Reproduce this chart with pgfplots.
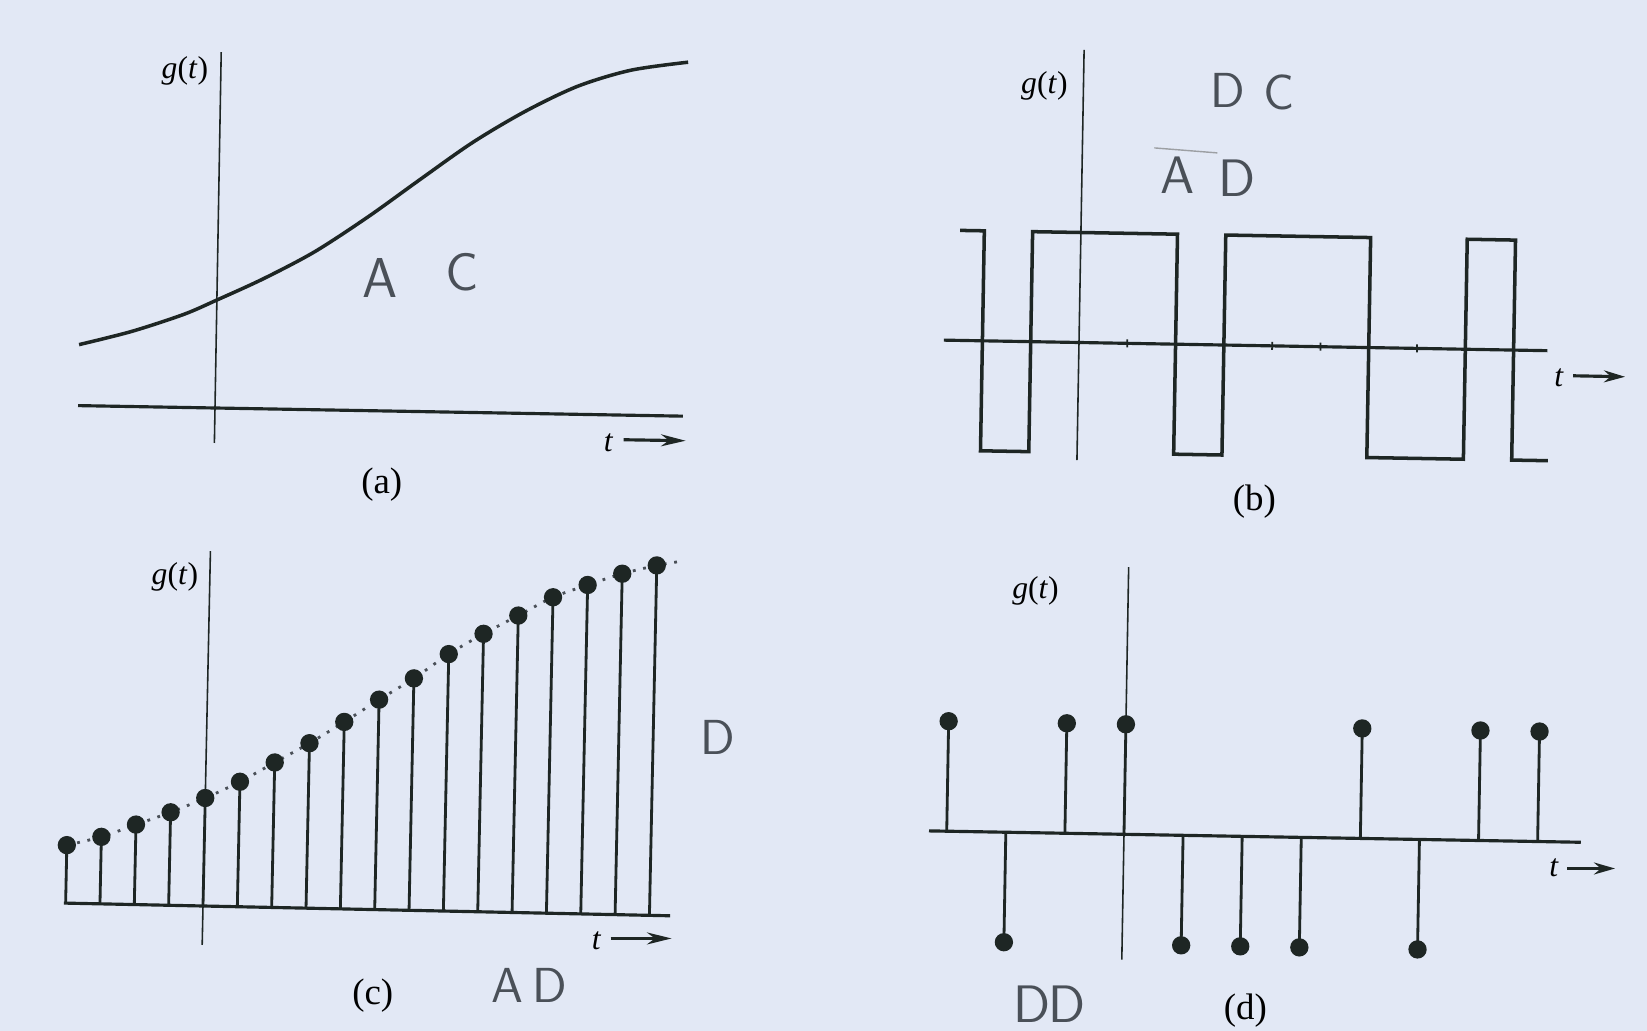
\documentclass[border=0pt]{standalone}
\usepackage{pgfplots}
\pgfplotsset{compat=1.18}
\usepackage{fontspec}
\setmainfont{Liberation Serif}
\usetikzlibrary{arrows.meta}

\definecolor{paper}{HTML}{E2E8F5}
\definecolor{ink}{HTML}{1E2624}
\definecolor{pencil}{HTML}{4A5058}

\pgfplotsset{
  signal panel/.style={
    anchor=origin, clip=false,
    axis lines=middle,
    axis line style={-, draw=ink},
    x axis line style={line width=0.9pt},
    y axis line style={line width=0.45pt},
    xtick=\empty, ytick=\empty,
    enlargelimits=false,
  },
  stem/.style={ycomb, draw=ink, line width=0.8pt,
    mark=*, mark size=2.2pt, mark options={fill=ink, draw=ink}},
}

\newcommand{\gt}{\textit{g}(\textit{t})}
\newcommand{\hand}[1]{\fontsize{#1}{#1}\selectfont\sffamily\color{pencil}}
\newcommand{\lab}{\fontsize{10.5}{12}\selectfont}
\newcommand{\sml}{\fontsize{9}{10}\selectfont}

\begin{document}
\begin{tikzpicture}
\fill[paper] (0,0) rectangle (16.47cm,-10.31cm);
\path[use as bounding box] (0,0) rectangle (16.47cm,-10.31cm);

% (a) continuous time, continuous amplitude
\begin{axis}[signal panel, at={(2.15cm,-4.08cm)},
  rotate around={-1.0:(current axis.origin)},
  x=1cm, y=1cm, xmin=-1.37, xmax=4.68, ymin=-0.35, ymax=3.56]
\addplot[ink, line width=1.0pt, smooth] coordinates {
  (-1.37,0.61) (-0.85,0.75) (-0.33,0.93) (0,1.08) (0.46,1.30) (0.97,1.58)
  (1.50,1.94) (2.01,2.32) (2.53,2.70) (3.05,3.02) (3.57,3.28) (4.10,3.45) (4.67,3.54)};
\end{axis}

% (b) continuous time, two amplitude levels
\begin{axis}[signal panel, at={(10.79cm,-3.425cm)},
  rotate around={-1.0:(current axis.origin)},
  x=0.483cm, y=1.1cm, xmin=-2.8, xmax=9.7, ymin=-1.07, ymax=2.66,
  xtick={-2,...,9}, xticklabels={}, tick align=center,
  major tick length=0.08cm, tick style={draw=ink, line width=0.5pt}]
\addplot[ink, line width=1.0pt, const plot] coordinates {
  (-2.5,1) (-2,-1) (-1,1) (2,-1) (3,1) (6,-1) (8,1) (9,-1) (9.75,-1)};
\end{axis}

% (c) samples of the continuous signal
\begin{axis}[signal panel, at={(2.03cm,-9.06cm)},
  rotate around={-1.2:(current axis.origin)},
  x=0.3435cm, y=1cm, xmin=-4.05, xmax=13.6, ymin=-0.39, ymax=3.55]
\addplot[pencil, line width=0.8pt, smooth, dash pattern=on 0.8pt off 2.2pt] coordinates {
  (-4,0.58) (-3,0.67) (-2,0.80) (-1,0.93) (0,1.08) (1,1.25) (2,1.45) (3,1.65)
  (4,1.87) (5,2.10) (6,2.32) (7,2.57) (8,2.78) (9,2.97) (10,3.16) (11,3.29)
  (12,3.41) (13,3.50) (13.6,3.54)};
\addplot[stem] coordinates {
  (-4,0.58) (-3,0.67) (-2,0.80) (-1,0.93) (0,1.08) (1,1.25) (2,1.45) (3,1.65)
  (4,1.87) (5,2.10) (6,2.32) (7,2.57) (8,2.78) (9,2.97) (10,3.16) (11,3.29)
  (12,3.41) (13,3.50)};
\end{axis}

% (d) samples with two amplitude levels
\begin{axis}[signal panel, at={(11.24cm,-8.343cm)},
  rotate around={-1.0:(current axis.origin)},
  x=0.591cm, y=1.1cm, xmin=-3.3, xmax=7.73, ymin=-1.14, ymax=2.43]
\addplot[stem] coordinates {
  (-3,1) (-2,-1) (-1,1) (0,1) (1,-1) (2,-1) (3,-1) (4,1) (5,-1) (6,1) (7,1)};
\end{axis}

\begin{scope}[x=0.01cm, y=-0.01cm]
  % axis names
  \node[font=\sml] at (185,71) {\gt};
  \node[font=\sml] at (1045,86) {\gt};
  \node[font=\sml] at (175,577) {\gt};
  \node[font=\sml] at (1036,591) {\gt};
  % time arrows
  \node[font=\sml] at (609,443) {\textit{t}};
  \draw[ink, line width=0.9pt, -{Stealth[length=7pt, width=3.4pt]}] (624,440) -- (686,441);
  \node[font=\sml] at (1560,378) {\textit{t}};
  \draw[ink, line width=0.9pt, -{Stealth[length=6pt, width=3.4pt]}] (1574,376) -- (1626,377);
  \node[font=\sml] at (597,941) {\textit{t}};
  \draw[ink, line width=0.9pt, -{Stealth[length=7pt, width=3.4pt]}] (611,939) -- (672,939);
  \node[font=\sml] at (1555,868) {\textit{t}};
  \draw[ink, line width=0.9pt, -{Stealth[length=6pt, width=3.4pt]}] (1568,869) -- (1616,869);
  % panel captions
  \node[font=\lab] at (382,485) {(a)};
  \node[font=\lab] at (1255,502) {(b)};
  \node[font=\lab] at (373,996) {(c)};
  \node[font=\lab] at (1246,1011) {(d)};
  % pencil notes
  \node[font=\hand{16}] at (380,278) {A};
  \node[font=\hand{15}] at (462,272) {C};
  \node[font=\hand{14}] at (1229,90) {D};
  \node[font=\hand{14}] at (1280,92) {C};
  \node[font=\hand{15}] at (1178,175) {A};
  \node[font=\hand{15}] at (1238,178) {D};
  \draw[pencil!55, line width=0.4pt] (1155,148) -- (1218,153);
  \node[font=\hand{14}] at (718,738) {D};
  \node[font=\hand{14}] at (508,986) {A};
  \node[font=\hand{14}] at (550,986) {D};
  \node[font=\hand{15}] at (1033,1005) {D};
  \node[font=\hand{15}] at (1068,1005) {D};
\end{scope}
\end{tikzpicture}
\end{document}
